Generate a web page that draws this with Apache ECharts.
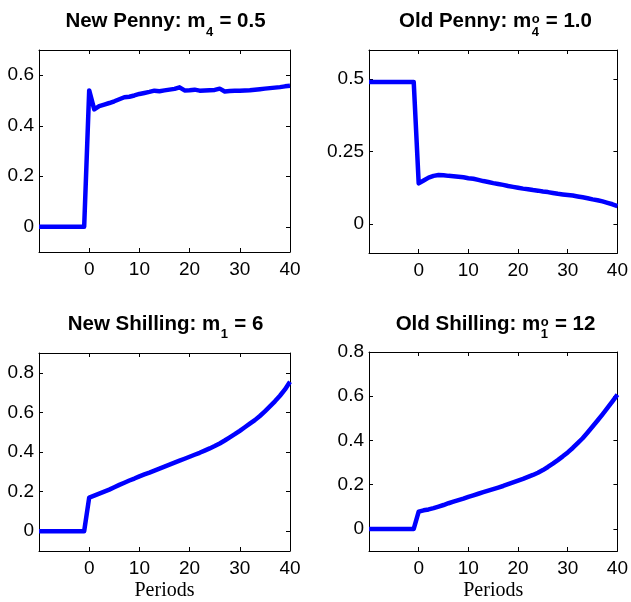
<!DOCTYPE html>
<html>
<head>
<meta charset="utf-8">
<script src="https://cdn.jsdelivr.net/npm/echarts@6/dist/echarts.min.js"></script>
<style>
  html, body { margin: 0; padding: 0; background: #fff; }
  #chart { width: 631px; height: 602px; }
</style>
</head>
<body>
<div id="chart"></div>
<script>
// Periods relative to the introduction of the new coinage
const periods = [-10, -9, -8, -7, -6, -5, -4, -3, -2, -1,
  0, 1, 2, 3, 4, 5, 6, 7, 8, 9, 10, 11, 12, 13, 14, 15, 16, 17, 18, 19, 20,
  21, 22, 23, 24, 25, 26, 27, 28, 29, 30, 31, 32, 33, 34, 35, 36, 37, 38, 39, 40];

const newPenny = [0, 0, 0, 0, 0, 0, 0, 0, 0, 0,
  0.540, 0.465, 0.478, 0.484, 0.490, 0.497, 0.505, 0.513, 0.515, 0.520, 0.526,
  0.530, 0.534, 0.539, 0.537, 0.540, 0.543, 0.546, 0.552, 0.540, 0.541,
  0.543, 0.539, 0.540, 0.541, 0.542, 0.547, 0.536, 0.538, 0.539, 0.539,
  0.540, 0.541, 0.543, 0.545, 0.547, 0.549, 0.551, 0.553, 0.556, 0.558];

const oldPenny = [0.49, 0.49, 0.49, 0.49, 0.49, 0.49, 0.49, 0.49, 0.49, 0.49,
  0.140, 0.150, 0.160, 0.166, 0.169, 0.168, 0.166, 0.165, 0.163, 0.161, 0.158,
  0.156, 0.152, 0.148, 0.145, 0.141, 0.138, 0.135, 0.131, 0.128, 0.125,
  0.122, 0.120, 0.117, 0.115, 0.112, 0.110, 0.107, 0.104, 0.102, 0.100,
  0.098, 0.095, 0.092, 0.089, 0.085, 0.082, 0.078, 0.073, 0.068, 0.062];

const newShilling = [0, 0, 0, 0, 0, 0, 0, 0, 0, 0,
  0.170, 0.180, 0.190, 0.200, 0.210, 0.222, 0.234, 0.245, 0.256, 0.266, 0.277,
  0.287, 0.296, 0.306, 0.316, 0.326, 0.336, 0.346, 0.356, 0.366, 0.376,
  0.386, 0.396, 0.407, 0.418, 0.430, 0.443, 0.458, 0.474, 0.490, 0.507,
  0.525, 0.543, 0.561, 0.582, 0.605, 0.630, 0.656, 0.684, 0.716, 0.755];

const oldShilling = [0, 0, 0, 0, 0, 0, 0, 0, 0, 0,
  0.078, 0.084, 0.088, 0.094, 0.101, 0.108, 0.116, 0.123, 0.130, 0.137, 0.145,
  0.152, 0.159, 0.166, 0.173, 0.180, 0.187, 0.194, 0.202, 0.210, 0.218,
  0.226, 0.235, 0.244, 0.254, 0.266, 0.280, 0.295, 0.311, 0.328, 0.346,
  0.366, 0.388, 0.410, 0.436, 0.463, 0.490, 0.518, 0.547, 0.577, 0.607];

// Tick values
const xTicks = [0, 10, 20, 30, 40];
const yTicksNewPenny = [0, 0.2, 0.4, 0.6];
const yTicksOldPenny = [0, 0.25, 0.5];
const yTicksNewShilling = [0, 0.2, 0.4, 0.6, 0.8];
const yTicksOldShilling = [0, 0.2, 0.4, 0.6, 0.8];

const SANS = '"Liberation Sans", Arial, Helvetica, sans-serif';
const SERIF = '"Liberation Serif", "Times New Roman", serif';
const AXIS_COLOR = '#000';
const LINE_COLOR = '#0000ff';

// Panel layout: plot box for each of the four panels
const panels = [
  { box: { left: 39, top: 50, width: 251, height: 202 }, y: [-0.1, 0.7], yTicks: yTicksNewPenny, data: newPenny, xName: '' ,
    title: [{ text: 'New Penny: m' }, { sub: '4' }, { text: ' = 0.5' }] },
  { box: { left: 369, top: 50, width: 251, height: 203 }, y: [-0.1, 0.6], yTicks: yTicksOldPenny, data: oldPenny, xName: '',
    title: [{ text: 'Old Penny: m' }, { sup: 'o', sub: '4' }, { text: ' = 1.0' }] },
  { box: { left: 39, top: 353, width: 251, height: 203 }, y: [-0.1, 0.9], yTicks: yTicksNewShilling, data: newShilling, xName: 'Periods',
    title: [{ text: 'New Shilling: m' }, { sub: '1' }, { text: ' = 6' }] },
  { box: { left: 369, top: 352, width: 251, height: 204 }, y: [-0.1, 0.8], yTicks: yTicksOldShilling, data: oldShilling, xName: 'Periods',
    title: [{ text: 'Old Shilling: m' }, { sup: 'o', sub: '1' }, { text: ' = 12' }] }
];

const TITLE_SIZE = 20.5;
const SCRIPT_SIZE = 13;
const mainFont = 'bold ' + TITLE_SIZE + 'px ' + SANS;
const scriptFont = 'bold ' + SCRIPT_SIZE + 'px ' + SANS;

const measureCtx = document.createElement('canvas').getContext('2d');
function textWidth(str, font) {
  measureCtx.font = font;
  return measureCtx.measureText(str).width;
}

// Builds a centred title with TeX-like sub/superscripts
function titleElements(parts, cx, cy) {
  const widths = parts.map(p => {
    if (p.text !== undefined) return textWidth(p.text, mainFont);
    return Math.max(p.sub ? textWidth(p.sub, scriptFont) : 0, p.sup ? textWidth(p.sup, scriptFont) : 0) + 1;
  });
  const total = widths.reduce((a, b) => a + b, 0);
  let x = cx - total / 2;
  const els = [];
  parts.forEach((p, i) => {
    if (p.text !== undefined) {
      els.push({ type: 'text', x: x, y: cy, style: { text: p.text, font: mainFont, fill: '#000', verticalAlign: 'middle', align: 'left' } });
    } else {
      if (p.sup) els.push({ type: 'text', x: x + 0.5, y: cy - 2, style: { text: p.sup, font: scriptFont, fill: '#000', verticalAlign: 'middle', align: 'left' } });
      if (p.sub) els.push({ type: 'text', x: x + 0.5, y: cy + 10.5, style: { text: p.sub, font: scriptFont, fill: '#000', verticalAlign: 'middle', align: 'left' } });
    }
    x += widths[i];
  });
  return els;
}

const grids = [], xAxes = [], yAxes = [], series = [], graphics = [];

panels.forEach((p, i) => {
  grids.push(Object.assign({ containLabel: false }, p.box));

  const xCommon = {
    type: 'value', gridIndex: i, min: -10, max: 40,
    axisLine: { show: true, onZero: false, lineStyle: { color: AXIS_COLOR, width: 1 } },
    axisTick: { show: true, inside: true, length: 4, customValues: xTicks, lineStyle: { color: AXIS_COLOR } },
    splitLine: { show: false }
  };
  xAxes.push(Object.assign({}, xCommon, {
    position: 'bottom',
    axisLabel: { show: true, customValues: xTicks, fontFamily: SANS, fontSize: 19, color: '#000', margin: 8 },
    name: p.xName, nameLocation: 'middle', nameGap: 30,
    nameTextStyle: { fontFamily: SERIF, fontSize: 20, color: '#000' }
  }));
  xAxes.push(Object.assign({}, xCommon, { position: 'top', axisLabel: { show: false } }));

  const yCommon = {
    type: 'value', gridIndex: i, min: p.y[0], max: p.y[1],
    axisLine: { show: true, onZero: false, lineStyle: { color: AXIS_COLOR, width: 1 } },
    axisTick: { show: true, inside: true, length: 4, customValues: p.yTicks, lineStyle: { color: AXIS_COLOR } },
    splitLine: { show: false }
  };
  yAxes.push(Object.assign({}, yCommon, {
    position: 'left',
    axisLabel: { show: true, customValues: p.yTicks, fontFamily: SANS, fontSize: 19, color: '#000', margin: 5 }
  }));
  yAxes.push(Object.assign({}, yCommon, { position: 'right', axisLabel: { show: false } }));

  series.push({
    type: 'line', xAxisIndex: 2 * i, yAxisIndex: 2 * i,
    data: periods.map((t, k) => [t, p.data[k]]),
    showSymbol: false, symbol: 'none', smooth: false,
    lineStyle: { color: LINE_COLOR, width: 4.5, join: 'round', cap: 'butt' },
    animation: false
  });

  const cx = p.box.left + p.box.width / 2 + 1;
  const cy = i < 2 ? 21.7 : 324;
  titleElements(p.title, cx, cy).forEach(e => graphics.push(e));
});

const chart = echarts.init(document.getElementById('chart'), null, { renderer: 'canvas' });
chart.setOption({
  animation: false,
  backgroundColor: '#fff',
  grid: grids,
  xAxis: xAxes,
  yAxis: yAxes,
  series: series,
  graphic: graphics
});
</script>
</body>
</html>
